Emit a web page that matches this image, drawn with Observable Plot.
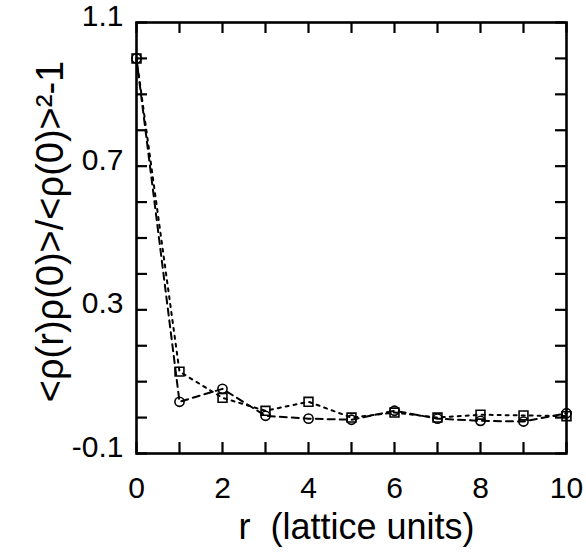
<!DOCTYPE html>
<html><head><meta charset="utf-8">
<script src="https://cdn.jsdelivr.net/npm/d3@7"></script>
<script src="https://cdn.jsdelivr.net/npm/@observablehq/plot@0.6"></script>
<style>
body{margin:0;background:#fff}
svg text{white-space:pre}
</style>
</head><body><div id="chart"></div>
<script>
// Data
const r = [0, 1, 2, 3, 4, 5, 6, 7, 8, 9, 10];
const squareSeries = [1.0, 0.128, 0.055, 0.019, 0.044, 0.0, 0.014, 0.0, 0.008, 0.006, 0.004];
const circleSeries = [1.0, 0.044, 0.080, 0.005, -0.003, -0.006, 0.019, -0.003, -0.009, -0.011, 0.012];
const xTickValues = [0, 1, 2, 3, 4, 5, 6, 7, 8, 9, 10];
const xLabelValues = [0, 2, 4, 6, 8, 10];
const yTickValues = [-0.1, 0, 0.1, 0.2, 0.3, 0.4, 0.5, 0.6, 0.7, 0.8, 0.9, 1.0, 1.1];
const yLabelValues = [-0.1, 0.3, 0.7, 1.1];
const xTitle = "r  (lattice units)";
const yTitle = "<ρ(r)ρ(0)>/<ρ(0)>²-1";

const squares = r.map((v, i) => ({r: v, value: squareSeries[i]}));
const circles = r.map((v, i) => ({r: v, value: circleSeries[i]}));

const W = 586, H = 554;
const mL = 136, mR = 20, mT = 22, mB = 101;
const fw = W - mL - mR, fh = H - mT - mB;
const tk = 11;

const chart = Plot.plot({
  width: W, height: H,
  marginLeft: mL, marginRight: mR, marginTop: mT, marginBottom: mB,
  style: {fontFamily: "'Liberation Sans', Arial, sans-serif", background: "#fff", color: "#000"},
  x: {domain: [0, 10]},
  y: {domain: [-0.1, 1.1]},
  marks: [
    Plot.ruleX(xTickValues, {x: d => d, insetTop: fh - tk, strokeWidth: 2.2}),
    Plot.ruleX(xTickValues, {x: d => d, insetBottom: fh - tk, strokeWidth: 2.2}),
    Plot.ruleY(yTickValues, {y: d => d, insetRight: fw - tk, strokeWidth: 2.2}),
    Plot.ruleY(yTickValues, {y: d => d, insetLeft: fw - tk, strokeWidth: 2.2}),
    Plot.frame({strokeWidth: 2.6}),
    Plot.line(squares, {x: "r", y: "value", strokeWidth: 2, strokeDasharray: "3,5"}),
    Plot.line(circles, {x: "r", y: "value", strokeWidth: 2, strokeDasharray: "7,5"}),
    Plot.dot(squares, {x: "r", y: "value", symbol: "square", r: 5, stroke: "black", strokeWidth: 1.6, fill: "none"}),
    Plot.dot(circles, {x: "r", y: "value", symbol: "circle", r: 4.6, stroke: "black", strokeWidth: 1.6, fill: "none"}),
    Plot.axisX({ticks: xLabelValues, tickSize: 0, tickPadding: 23, fontSize: 30, tickFormat: d => String(d), label: null}),
    Plot.axisY({ticks: yLabelValues, tickSize: 0, tickPadding: 13, fontSize: 30, dy: -6, tickFormat: d => String(d), label: null}),
    Plot.text([xTitle], {frameAnchor: "bottom", text: d => d, lineAnchor: "middle", textAnchor: "middle", dy: 73.5, dx: 5, fontSize: 36}),
    Plot.text([yTitle], {frameAnchor: "left", text: d => d, lineAnchor: "middle", textAnchor: "middle", rotate: -90, dx: -86, dy: -6.5, fontSize: 38, style: "letter-spacing:3px"})
  ]
});
document.getElementById("chart").appendChild(chart);
</script>
</body></html>
